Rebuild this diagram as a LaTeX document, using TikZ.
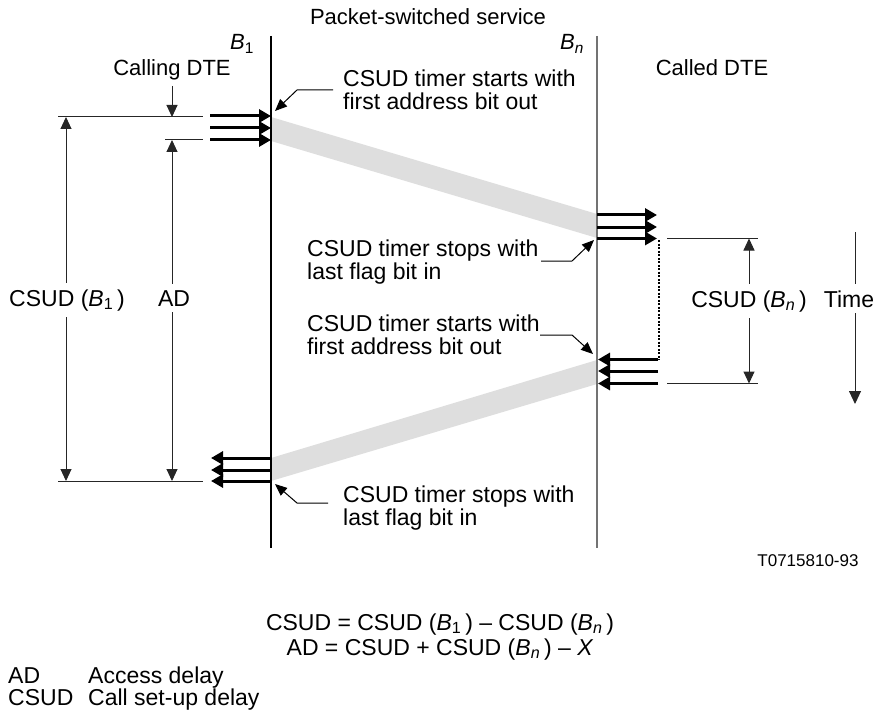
\documentclass[tikz,border=0pt]{standalone}
\usepackage{fontspec}
\setmainfont{Liberation Sans}
\usetikzlibrary{arrows.meta}
\begin{document}
\begin{tikzpicture}[x=1pt,y=-1pt,
  txt/.style={font=\fontsize{23}{25}\selectfont, inner sep=0pt},
  headtxt/.style={font=\fontsize{22}{24}\selectfont, inner sep=0pt},
  smalltxt/.style={font=\fontsize{17}{19}\selectfont, inner sep=0pt},
  lbl/.style={txt, fill=white, inner xsep=3pt, inner ysep=6pt},
  thinline/.style={line width=1pt, black!85},
  thickarr/.style={line width=3pt, -{Triangle[length=12pt,width=13pt]}},
  dimtip/.style={line width=1pt, black!85, {Triangle[length=12pt,width=11pt]}-{Triangle[length=12pt,width=11pt]}},
  onetip/.style={line width=1pt, black!85, -{Triangle[length=12pt,width=11pt]}},
  callout/.style={line width=1pt, -{Triangle[length=12pt,width=10pt]}},
  band/.style={fill=black!13, draw=none}
]
\path[use as bounding box] (0,0) rectangle (882,711);

% ---- gray bands
\fill[band] (271,117) -- (597,214) -- (597,238) -- (271,141) -- cycle;
\fill[band] (271,458) -- (597,360) -- (597,384) -- (271,481) -- cycle;

% ---- vertical lines
\coordinate (b1top) at (271,36);
\coordinate (b1bot) at (271,548);
\coordinate (bntop) at (597,36);
\coordinate (bnbot) at (597,548);
\draw[line width=1.1pt] (b1top) -- (b1bot);
\draw[line width=1.1pt, black!55] (bntop) -- (bnbot);

% ---- top text
\node[headtxt, anchor=base] (title) at (428,25) {Packet-switched service};
\node[headtxt, anchor=base] (b1) at (242,50) {\textit{B}\textsubscript{1}};
\node[headtxt, anchor=base] (bn) at (572,50) {\textit{B}\textsubscript{\textit{n}}};
\node[headtxt, anchor=base] (calling) at (172,76) {Calling DTE};
\node[headtxt, anchor=base] (called) at (712,76) {Called DTE};

% ---- thick arrows at B1 (out)
\foreach \y [count=\i] in {116,128,140}{
  \coordinate (oa\i) at (210,\y);
  \coordinate (ob\i) at (271,\y);
  \draw[thickarr] (oa\i) -- (ob\i);
}
% ---- thick arrows at Bn (in)
\foreach \y [count=\i] in {215,227,238.5}{
  \coordinate (ia\i) at (597,\y);
  \coordinate (ib\i) at (657,\y);
  \draw[thickarr] (ia\i) -- (ib\i);
}
% ---- thick arrows at Bn (out, leftwards)
\foreach \y [count=\i] in {359.5,371,383.5}{
  \coordinate (ra\i) at (658,\y);
  \coordinate (rb\i) at (598,\y);
  \draw[thickarr] (ra\i) -- (rb\i);
}
% ---- thick arrows at B1 (in, leftwards)
\foreach \y [count=\i] in {458,470,481}{
  \coordinate (la\i) at (271,\y);
  \coordinate (lb\i) at (211,\y);
  \draw[thickarr] (la\i) -- (lb\i);
}

% ---- dotted connector
\coordinate (dt) at (658.5,240);
\coordinate (db) at (658.5,359.5);
\draw[line width=2pt, dash pattern=on 2pt off 1.5pt] (dt) -- (db);

% ---- extension lines left
\coordinate (e1a) at (58,117);  \coordinate (e1b) at (203,117);
\coordinate (e2a) at (165,140); \coordinate (e2b) at (203,140);
\coordinate (e3a) at (58,481);  \coordinate (e3b) at (203,481);
\draw[thinline] (e1a) -- (e1b);
\draw[thinline] (e2a) -- (e2b);
\draw[thinline] (e3a) -- (e3b);
% ---- extension lines right
\coordinate (e4a) at (667,238.5); \coordinate (e4b) at (758,238.5);
\coordinate (e5a) at (667,383.5); \coordinate (e5b) at (758,383.5);
\draw[thinline] (e4a) -- (e4b);
\draw[thinline] (e5a) -- (e5b);

% ---- dimension arrows
\coordinate (csb1t) at (66,117);  \coordinate (csb1b) at (66,481);
\draw[dimtip] (csb1t) -- (csb1b);
\node[lbl, anchor=base] (csb1) at (67,306) {CSUD (\textit{B}\textsubscript{1}\,)};

\coordinate (adt) at (172,140); \coordinate (adb) at (172,481);
\draw[dimtip] (adt) -- (adb);
\node[lbl, anchor=base] (ad) at (174,306) {AD};
\coordinate (adst) at (172,86); \coordinate (adse) at (172,117);
\draw[onetip] (adst) -- (adse);

\coordinate (csbnt) at (749,238.5); \coordinate (csbnb) at (749,383.5);
\draw[dimtip] (csbnt) -- (csbnb);
\node[lbl, anchor=base] (csbn) at (749,307) {CSUD (\textit{B}\textsubscript{\textit{n}}\,)};

\coordinate (tt) at (855,232); \coordinate (tb) at (855,404);
\draw[line width=1pt, black!85, -{Triangle[length=13pt,width=12pt]}] (tt) -- (tb);
\node[lbl, anchor=base, inner xsep=1pt] (time) at (849,307) {Time};

% ---- callouts
\node[txt, anchor=base west] (c1a) at (343,87) {CSUD timer starts with};
\node[txt, anchor=base west] (c1b) at (343,110) {first address bit out};
\coordinate (k1a) at (333,90); \coordinate (k1b) at (297,90); \coordinate (k1c) at (275,111);
\draw[callout] (k1a) -- (k1b) -- (k1c);

\node[txt, anchor=base west] (c2a) at (307,256) {CSUD timer stops with};
\node[txt, anchor=base west] (c2b) at (307,279) {last flag bit in};
\coordinate (k2a) at (541,261); \coordinate (k2b) at (572,261); \coordinate (k2c) at (594,240);
\draw[callout] (k2a) -- (k2b) -- (k2c);

\node[txt, anchor=base west] (c3a) at (307,331) {CSUD timer starts with};
\node[txt, anchor=base west] (c3b) at (307,354) {first address bit out};
\coordinate (k3a) at (540,335); \coordinate (k3b) at (572,335); \coordinate (k3c) at (593,354);
\draw[callout] (k3a) -- (k3b) -- (k3c);

\node[txt, anchor=base west] (c4a) at (343,502) {CSUD timer stops with};
\node[txt, anchor=base west] (c4b) at (343,525) {last flag bit in};
\coordinate (k4a) at (328,503); \coordinate (k4b) at (297,503); \coordinate (k4c) at (275,484);
\draw[callout] (k4a) -- (k4b) -- (k4c);

% ---- figure id
\node[smalltxt, anchor=base] (fid) at (808,566) {T0715810-93};

% ---- formulas
\node[txt, anchor=base] (f1) at (440,630) {CSUD = CSUD (\textit{B}\textsubscript{1}\,) – CSUD (\textit{B}\textsubscript{\textit{n}}\,)};
\node[txt, anchor=base] (f2) at (440,655) {AD = CSUD + CSUD (\textit{B}\textsubscript{\textit{n}}\,) – \textit{X}};

% ---- legend
\node[txt, anchor=base west] (lg1a) at (8,683) {AD};
\node[txt, anchor=base west] (lg1b) at (88,683) {Access delay};
\node[txt, anchor=base west] (lg2a) at (8,705) {CSUD};
\node[txt, anchor=base west] (lg2b) at (88,705) {Call set-up delay};
\end{tikzpicture}
\end{document}
